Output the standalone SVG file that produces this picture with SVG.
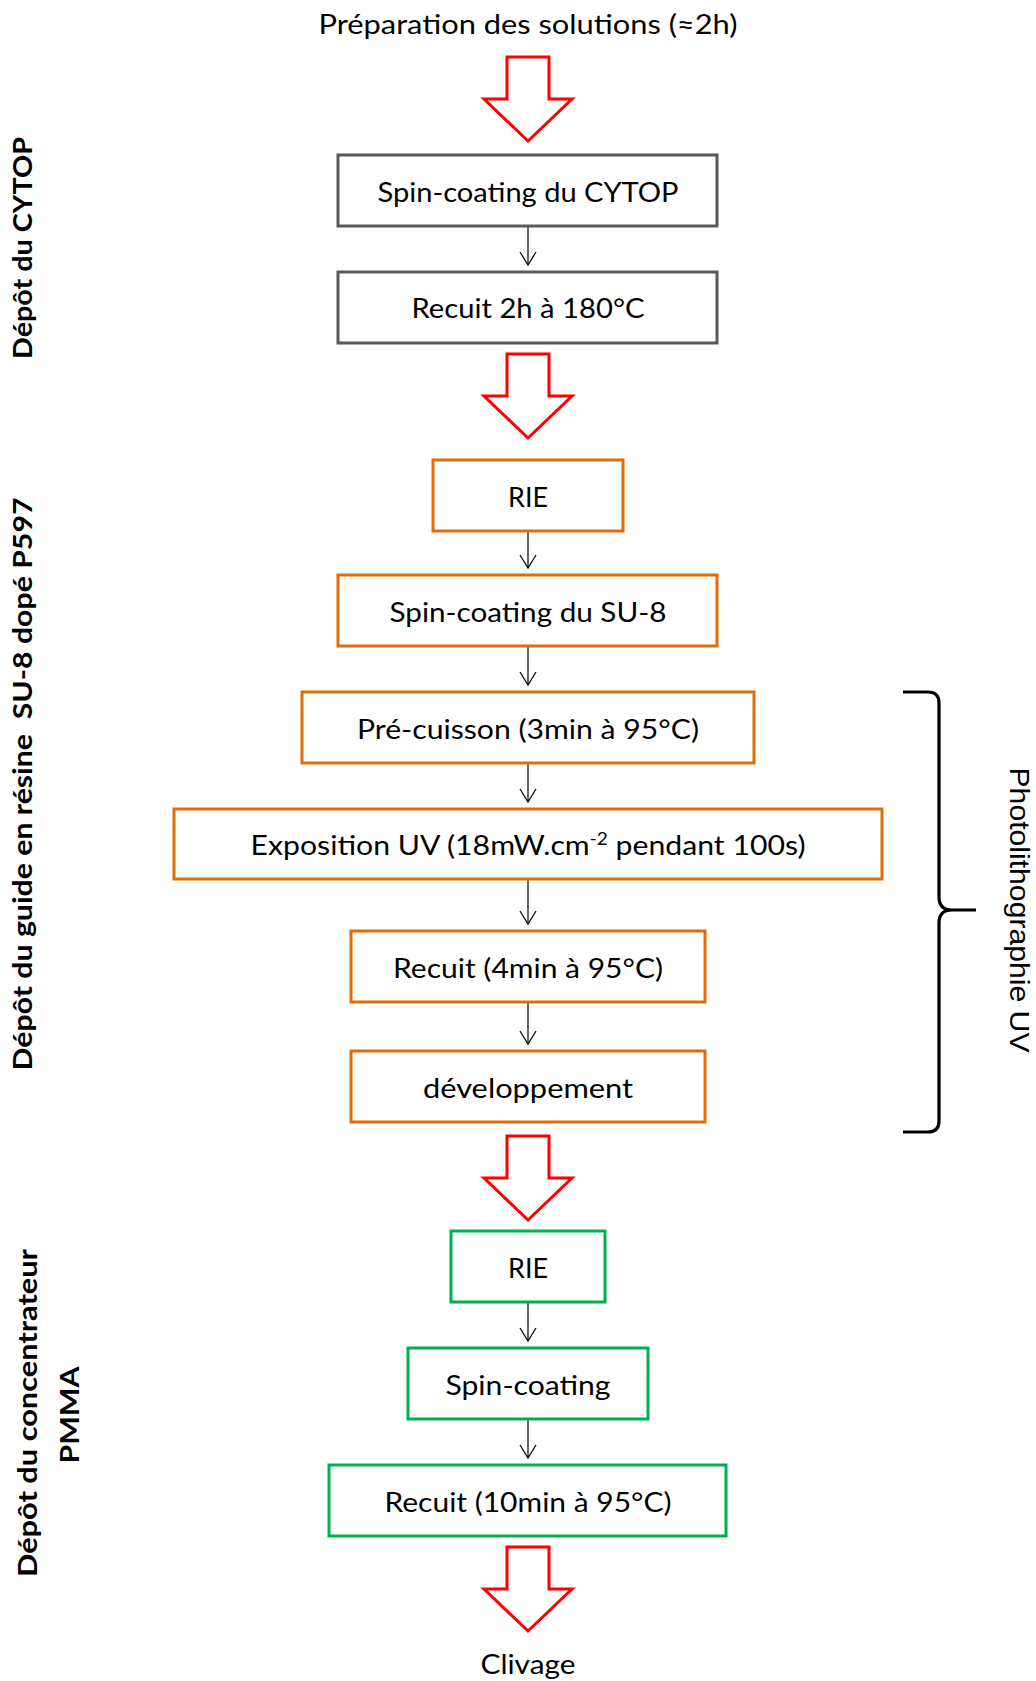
<svg xmlns="http://www.w3.org/2000/svg" width="1036" height="1681" viewBox="0 0 1036 1681">
<style>
  .t { font-family: Lato, "Liberation Sans", sans-serif; font-size: 27px; fill: #000; text-anchor: middle; }
  .lbl { font-family: Lato, "Liberation Sans", sans-serif; font-size: 26px; font-weight: bold; fill: #000; text-anchor: middle; white-space: pre; }
  .side { font-family: "Liberation Sans", Arial, sans-serif; font-size: 28px; fill: #000; text-anchor: middle; }
  .box { fill: #fff; stroke-width: 3; }
  .gray { stroke: #595959; }
  .orange { stroke: #E36C0A; }
  .green { stroke: #00B050; }
  .conn { stroke: #000; stroke-width: 1.2; fill: none; }
  .big { fill: #fff; stroke: #FF0000; stroke-width: 3; }
</style>
<defs>
  <marker id="ah" markerUnits="userSpaceOnUse" markerWidth="20" markerHeight="20" viewBox="-15 -10 17 20" refX="0" refY="0" orient="auto">
    <path d="M-13,-8 L0,0 L-13,8" fill="none" stroke="#000" stroke-width="1.2"/>
  </marker>
  <path id="bigArrow" d="M-21,0 L21,0 L21,42 L44,42 L0,84 L-44,42 L-21,42 Z"/>
</defs>
<rect width="1036" height="1681" fill="#fff"/>

<g id="title"><text class="t" x="528" y="34" textLength="419" lengthAdjust="spacingAndGlyphs">Préparation des solutions (≈2h)</text></g>

<g id="big-arrows">
  <use href="#bigArrow" class="big" transform="translate(528,57)"/>
  <use href="#bigArrow" class="big" transform="translate(528,354)"/>
  <use href="#bigArrow" class="big" transform="translate(528,1136)"/>
  <use href="#bigArrow" class="big" transform="translate(528,1547)"/>
</g>

<g id="connectors">
  <line class="conn" x1="528" y1="226" x2="528" y2="265" marker-end="url(#ah)"/>
  <line class="conn" x1="528" y1="531" x2="528" y2="568" marker-end="url(#ah)"/>
  <line class="conn" x1="528" y1="646" x2="528" y2="685" marker-end="url(#ah)"/>
  <line class="conn" x1="528" y1="763" x2="528" y2="802" marker-end="url(#ah)"/>
  <line class="conn" x1="528" y1="879" x2="528" y2="924" marker-end="url(#ah)"/>
  <line class="conn" x1="528" y1="1002" x2="528" y2="1044" marker-end="url(#ah)"/>
  <line class="conn" x1="528" y1="1302" x2="528" y2="1341" marker-end="url(#ah)"/>
  <line class="conn" x1="528" y1="1419" x2="528" y2="1458" marker-end="url(#ah)"/>
</g>

<g id="n1"><rect class="box gray" x="338" y="155" width="379" height="71"/><text class="t" x="528" y="202" textLength="301" lengthAdjust="spacingAndGlyphs">Spin-coating du CYTOP</text></g>
<g id="n2"><rect class="box gray" x="338" y="272" width="379" height="71"/><text class="t" x="528" y="318" textLength="233" lengthAdjust="spacingAndGlyphs">Recuit 2h à 180°C</text></g>
<g id="n3"><rect class="box orange" x="433" y="460" width="190" height="71"/><text class="t" x="528" y="507" textLength="40" lengthAdjust="spacingAndGlyphs">RIE</text></g>
<g id="n4"><rect class="box orange" x="338" y="575" width="379" height="71"/><text class="t" x="528" y="622" textLength="277" lengthAdjust="spacingAndGlyphs">Spin-coating du SU-8</text></g>
<g id="n5"><rect class="box orange" x="302" y="692" width="452" height="71"/><text class="t" x="528" y="739" textLength="342" lengthAdjust="spacingAndGlyphs">Pré-cuisson (3min à 95°C)</text></g>
<g id="n6"><rect class="box orange" x="174" y="809" width="708" height="70"/><text class="t" x="528" y="855" textLength="555" lengthAdjust="spacingAndGlyphs">Exposition UV (18mW.cm<tspan font-size="17" dy="-10">-2</tspan><tspan dy="10"> pendant 100s)</tspan></text></g>
<g id="n7"><rect class="box orange" x="351" y="931" width="354" height="71"/><text class="t" x="528" y="978" textLength="270" lengthAdjust="spacingAndGlyphs">Recuit (4min à 95°C)</text></g>
<g id="n8"><rect class="box orange" x="351" y="1051" width="354" height="71"/><text class="t" x="528" y="1098" textLength="210" lengthAdjust="spacingAndGlyphs">développement</text></g>
<g id="n9"><rect class="box green" x="451" y="1231" width="154" height="71"/><text class="t" x="528" y="1278" textLength="40" lengthAdjust="spacingAndGlyphs">RIE</text></g>
<g id="n10"><rect class="box green" x="408" y="1348" width="240" height="71"/><text class="t" x="528" y="1395" textLength="165" lengthAdjust="spacingAndGlyphs">Spin-coating</text></g>
<g id="n11"><rect class="box green" x="329" y="1465" width="397" height="71"/><text class="t" x="528" y="1512" textLength="287" lengthAdjust="spacingAndGlyphs">Recuit (10min à 95°C)</text></g>
<g id="end"><text class="t" x="528" y="1674" textLength="95" lengthAdjust="spacingAndGlyphs">Clivage</text></g>

<g id="labels">
  <text class="lbl" transform="translate(32,248) rotate(-90)" textLength="222" lengthAdjust="spacingAndGlyphs">Dépôt du CYTOP</text>
  <text class="lbl" transform="translate(32,784) rotate(-90)" textLength="573" lengthAdjust="spacingAndGlyphs">Dépôt du guide en résine  SU-8 dopé P597</text>
  <text class="lbl" transform="translate(37,1413) rotate(-90)" textLength="328" lengthAdjust="spacingAndGlyphs">Dépôt du concentrateur</text>
  <text class="lbl" transform="translate(79,1415) rotate(-90)" textLength="97" lengthAdjust="spacingAndGlyphs">PMMA</text>
</g>

<g id="brace">
  <path d="M903,692 L928,692 Q939,692 939,703 L939,897 Q939,910 952,910 L976,910 M952,910 Q939,910 939,923 L939,1121 Q939,1132 928,1132 L903,1132" fill="none" stroke="#000" stroke-width="3.2"/>
  <text class="side" transform="translate(1010,910) rotate(90)" textLength="285" lengthAdjust="spacingAndGlyphs">Photolithographie UV</text>
</g>
</svg>
